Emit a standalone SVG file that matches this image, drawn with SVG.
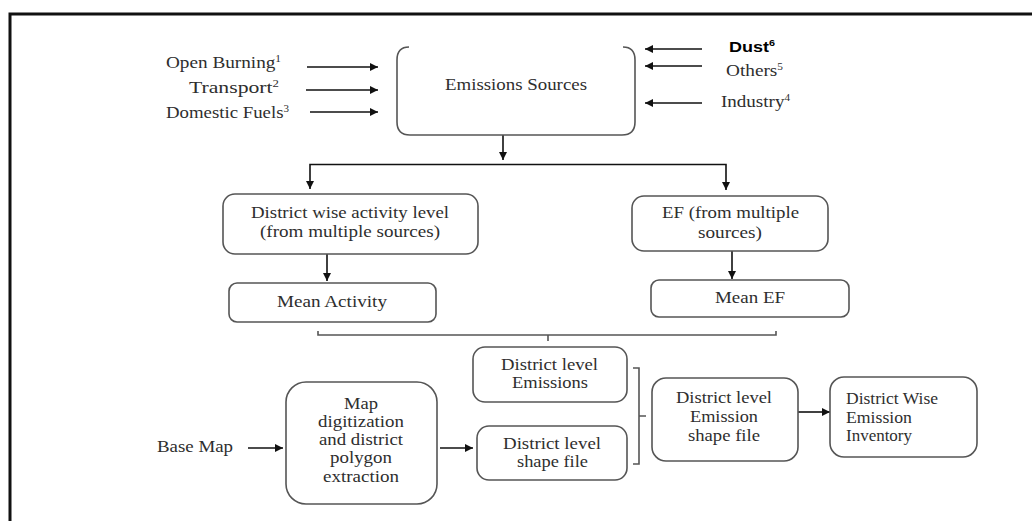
<svg xmlns="http://www.w3.org/2000/svg" width="1032" height="521" viewBox="0 0 1032 521">
<style>
text{font-family:"Liberation Serif","Times New Roman",serif;font-size:17px;fill:#2e2e2e;}
.c{text-anchor:middle;}
.b{font-family:"Liberation Sans",Arial,sans-serif;font-weight:bold;font-size:15px;fill:#000;}
.box{fill:#fff;stroke:#555;stroke-width:1.6;}
.ln{fill:none;stroke:#111;stroke-width:1.6;}
.br{fill:none;stroke:#555;stroke-width:1.6;}
.frame{fill:none;stroke:#111;stroke-width:3;}
</style>
<defs>
<marker id="ah" markerUnits="userSpaceOnUse" markerWidth="9" markerHeight="8" viewBox="0 0 10 10" refX="10" refY="5" orient="auto">
<path d="M0,0 L10,5 L0,10 z" fill="#111"/>
</marker>
</defs>
<rect width="1032" height="521" fill="#fff"/>
<path class="frame" d="M10,521 V14 H1032"/>

<g id="connectors">
<line class="ln" x1="307" y1="67" x2="378" y2="67" marker-end="url(#ah)"/>
<line class="ln" x1="306" y1="90" x2="378" y2="90" marker-end="url(#ah)"/>
<line class="ln" x1="310" y1="112" x2="378" y2="112" marker-end="url(#ah)"/>
<line class="ln" x1="702" y1="49" x2="645" y2="49" marker-end="url(#ah)"/>
<line class="ln" x1="702" y1="66" x2="645" y2="66" marker-end="url(#ah)"/>
<line class="ln" x1="702" y1="103" x2="645" y2="103" marker-end="url(#ah)"/>
<line class="ln" x1="503" y1="135" x2="503" y2="160" marker-end="url(#ah)"/>
<path class="ln" d="M310,170 V164.5 H726 V190" marker-end="url(#ah)"/>
<line class="ln" x1="310" y1="170" x2="310" y2="189" marker-end="url(#ah)"/>
<line class="ln" x1="327" y1="254" x2="327" y2="281" marker-end="url(#ah)"/>
<line class="ln" x1="732" y1="251" x2="732" y2="279" marker-end="url(#ah)"/>
<path class="br" d="M318,331 V335 H776 V331 M548,335 V341"/>
<path class="br" d="M633,368 H639 V464 H633 M639,416 H646"/>
<line class="ln" x1="248" y1="448" x2="283" y2="448" marker-end="url(#ah)"/>
<line class="ln" x1="440" y1="448" x2="473" y2="448" marker-end="url(#ah)"/>
<line class="ln" x1="798" y1="412" x2="830" y2="412" marker-end="url(#ah)"/>
</g>

<g id="inputs-left">
<text x="166" y="68" textLength="115" lengthAdjust="spacingAndGlyphs">Open Burning<tspan font-size="10" dy="-6">1</tspan></text>
<text x="189" y="93" textLength="90" lengthAdjust="spacingAndGlyphs">Transport<tspan font-size="10" dy="-6">2</tspan></text>
<text x="166" y="118" textLength="123" lengthAdjust="spacingAndGlyphs">Domestic Fuels<tspan font-size="10" dy="-6">3</tspan></text>
</g>

<g id="inputs-right">
<text class="b" x="729" y="52" textLength="46" lengthAdjust="spacingAndGlyphs">Dust<tspan font-size="9" dy="-6">6</tspan></text>
<text x="726" y="76" textLength="57" lengthAdjust="spacingAndGlyphs">Others<tspan font-size="10" dy="-6">5</tspan></text>
<text x="721" y="107" textLength="69" lengthAdjust="spacingAndGlyphs">Industry<tspan font-size="10" dy="-6">4</tspan></text>
</g>

<g id="emissions-sources">
<path class="box" d="M409,47 Q397,47 397,60 V122 Q397,135 410,135 H622 Q635,135 635,122 V60 Q635,47 623,47" style="fill:none"/>
<text class="c" x="516" y="90" textLength="142" lengthAdjust="spacingAndGlyphs">Emissions Sources</text>
</g>

<g id="district-activity">
<rect class="box" x="223" y="194" width="255" height="60" rx="12"/>
<text class="c" x="350" y="218" textLength="198" lengthAdjust="spacingAndGlyphs">District wise activity level</text>
<text class="c" x="350" y="237" textLength="180" lengthAdjust="spacingAndGlyphs">(from multiple sources)</text>
</g>

<g id="ef-sources">
<rect class="box" x="632" y="196" width="196" height="55" rx="12"/>
<text class="c" x="730.5" y="218" textLength="137" lengthAdjust="spacingAndGlyphs">EF (from multiple</text>
<text class="c" x="730" y="238" textLength="64" lengthAdjust="spacingAndGlyphs">sources)</text>
</g>

<g id="mean-activity">
<rect class="box" x="229" y="283" width="207" height="39" rx="8"/>
<text class="c" x="332" y="307" textLength="110" lengthAdjust="spacingAndGlyphs">Mean Activity</text>
</g>

<g id="mean-ef">
<rect class="box" x="651" y="280" width="198" height="37" rx="8"/>
<text class="c" x="750" y="303" textLength="70" lengthAdjust="spacingAndGlyphs">Mean EF</text>
</g>

<g id="district-emissions">
<rect class="box" x="473" y="347" width="154" height="55" rx="12"/>
<text class="c" x="549.5" y="370" textLength="97" lengthAdjust="spacingAndGlyphs">District level</text>
<text class="c" x="550" y="388" textLength="76" lengthAdjust="spacingAndGlyphs">Emissions</text>
</g>

<g id="district-shape">
<rect class="box" x="477" y="426" width="150" height="54" rx="12"/>
<text class="c" x="552" y="449" textLength="98" lengthAdjust="spacingAndGlyphs">District level</text>
<text class="c" x="552.5" y="467" textLength="71" lengthAdjust="spacingAndGlyphs">shape file</text>
</g>

<g id="base-map">
<text x="157" y="452" textLength="76" lengthAdjust="spacingAndGlyphs">Base Map</text>
</g>

<g id="map-digitization">
<rect class="box" x="286" y="382" width="151" height="122" rx="20"/>
<text class="c" x="361" y="409" textLength="34" lengthAdjust="spacingAndGlyphs">Map</text>
<text class="c" x="361" y="427" textLength="86" lengthAdjust="spacingAndGlyphs">digitization</text>
<text class="c" x="361" y="445" textLength="84" lengthAdjust="spacingAndGlyphs">and district</text>
<text class="c" x="361" y="463" textLength="62" lengthAdjust="spacingAndGlyphs">polygon</text>
<text class="c" x="361" y="482" textLength="76" lengthAdjust="spacingAndGlyphs">extraction</text>
</g>

<g id="emission-shape-file">
<rect class="box" x="652" y="378" width="146" height="83" rx="14"/>
<text class="c" x="724" y="403" textLength="96" lengthAdjust="spacingAndGlyphs">District level</text>
<text class="c" x="724" y="422" textLength="68" lengthAdjust="spacingAndGlyphs">Emission</text>
<text class="c" x="724" y="441" textLength="72" lengthAdjust="spacingAndGlyphs">shape file</text>
</g>

<g id="emission-inventory">
<rect class="box" x="830" y="377" width="147" height="80" rx="14"/>
<text x="846" y="404" textLength="92" lengthAdjust="spacingAndGlyphs">District Wise</text>
<text x="846" y="423" textLength="66" lengthAdjust="spacingAndGlyphs">Emission</text>
<text x="846" y="441" textLength="66" lengthAdjust="spacingAndGlyphs">Inventory</text>
</g>
</svg>
